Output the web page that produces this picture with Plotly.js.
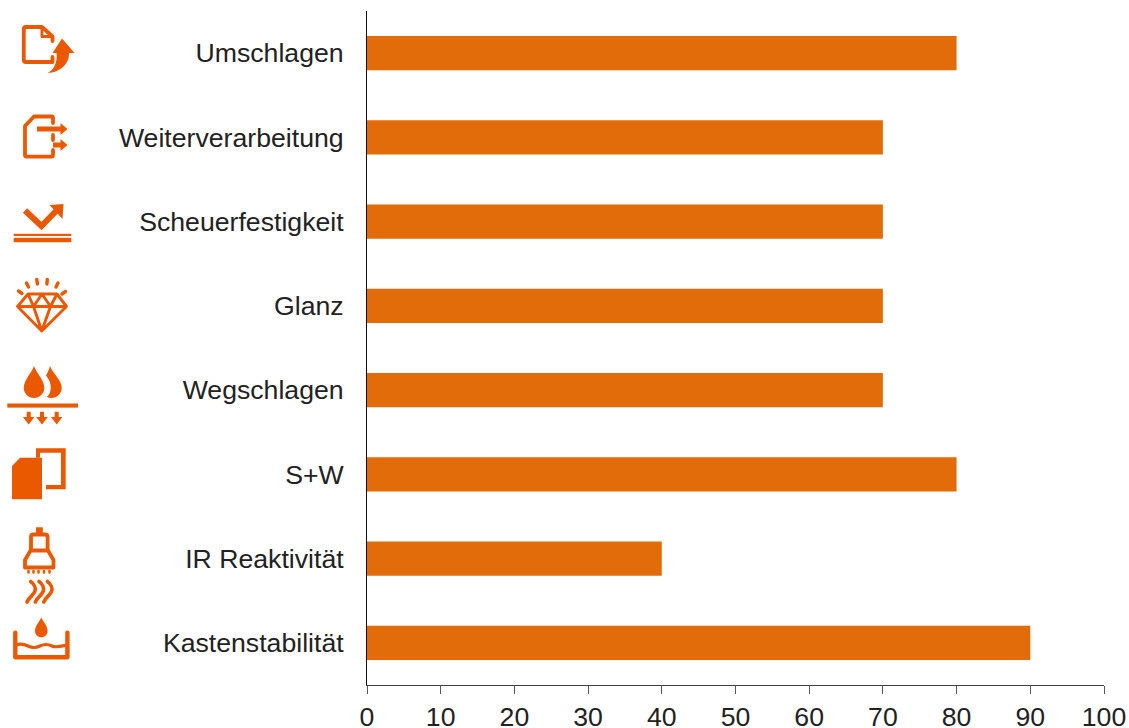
<!DOCTYPE html>
<html>
<head>
<meta charset="utf-8">
<script src="https://cdn.plot.ly/plotly-3.0.1.min.js"></script>
<style>html,body{margin:0;padding:0;background:#fff}#chart{width:1129px;height:728px}</style>
</head>
<body>
<div id="chart"></div>
<script>
const categories = ["Umschlagen","Weiterverarbeitung","Scheuerfestigkeit","Glanz","Wegschlagen","S+W","IR Reaktivität","Kastenstabilität"];
const values = [80,70,70,70,70,80,40,90];
const xTicks = [0,10,20,30,40,50,60,70,80,90,100];

const W = 1129, H = 728;
const M = {l:367, r:25, t:11, b:43};
const barColor = "#E36C0A";
const iconColor = "#EA5800";
const textColor = "#222222";

// icon artwork, drawn in page-pixel coordinates inside its own box
const stroke = (w) => `fill="none" stroke="${iconColor}" stroke-width="${w}" stroke-linejoin="round" stroke-linecap="round"`;
const fill = `fill="${iconColor}"`;
const icons = [
  {box:[18,20,60,56], art:`
    <path ${stroke(3.8)} d="M52.5 41V36.5L42 27H26Q23.8 27 23.8 29V60Q23.8 62 26 62H52.5V57"/>
    <path ${stroke(3)} d="M42 28V36.5H52"/>
    <path ${fill} d="M62 38.5L74.5 53H69C69.5 64 60 72.5 47.5 73C54.5 69.5 57.5 62 56.5 53H52.5Z"/>`},
  {box:[20,110,52,52], art:`
    <path ${stroke(3.8)} d="M53 123V118Q53 116.5 51.5 116.5H34L25 126V155Q25 156.7 26.5 156.7H51.5Q53 156.7 53 155V150M53 135V140"/>
    <path ${fill} d="M37 126.5H60.5V123L67.5 129L60.5 135V131.5H37Z"/>
    <path ${fill} d="M53 142.5H60.5V139L67.5 145L60.5 151V147.5H53Z"/>`},
  {box:[10,200,66,46], art:`
    <path ${stroke(6)} style="stroke-linecap:butt;stroke-linejoin:miter" d="M25 210.5L41.5 226L58 209"/>
    <path ${fill} d="M63.5 204L49.5 205L62.5 219Z"/>
    <rect ${fill} x="13.7" y="233.8" width="57.6" height="2.2"/>
    <rect ${fill} x="13.7" y="237.8" width="57.6" height="4.4"/>`},
  {box:[14,275,56,60], art:`
    <path ${stroke(2.9)} d="M28 294H57L66.5 306.5L41.8 331L17.5 306.5ZM17.5 306.5H66.5M28 294L33.5 306.5L41.8 331L50.5 306.5L57 294M33.5 306.5L42 294L50.5 306.5"/>
    <path ${stroke(3.4)} d="M18.5 291L22 293.5M26.5 283L28.5 287M36.8 279.5L37.4 284M47.3 279.5L46.9 284M58 283L56 287M65.5 291.5L62 294"/>`},
  {box:[4,362,78,66], art:`
    <path ${fill} d="M34 366C37 374 44.3 380 44.3 388C44.3 393.6 39.6 398 34 398C28.4 398 23.8 393.6 23.8 388C23.8 380 31 374 34 366Z"/>
    <path ${fill} d="M50 366C53 374 61.7 380 61.7 388C61.7 394 56.5 398 51.5 398C49.5 398 48 397.5 47 396.5C52 393 52.5 383 46 375.5C47.5 373 49 370 50 366Z"/>
    <rect ${fill} x="7.3" y="403.5" width="70.7" height="4.1"/>
    <path ${fill} d="M26.7 411.7H30.7V417H34.5L28.7 424.5L22.9 417H26.7Z"/>
    <path ${fill} d="M40 411.7H44V417H47.8L42 424.5L36.2 417H40Z"/>
    <path ${fill} d="M54.7 411.7H58.7V417H62.5L56.7 424.5L50.9 417H54.7Z"/>`},
  {box:[8,444,62,60], art:`
    <path ${fill} d="M20 457.7H42V499.3H12V466Z"/>
    <path ${fill} d="M36 448.3H65.7V489.3H46V485H61V452.7H40V457.7H36Z"/>`},
  {box:[20,524,40,82], art:`
    <rect ${fill} x="36" y="527.3" width="6.8" height="6"/>
    <path ${stroke(3.8)} d="M31 549V537Q31 534.5 33.5 534.5H45Q47.6 534.5 47.6 537V549"/>
    <path ${stroke(3.8)} d="M30.5 550.5H48L53.5 560V567.5H25V560Z"/>
    <path ${stroke(2.6)} d="M28.5 571V572.5M33.5 571V572.5M38.5 571V572.5M44 571V572.5M49.5 571V572.5"/>
    <path ${stroke(3.6)} d="M30.7 581.5C34 584 36 588 35 591C34 595 29 597 27 602"/>
    <path ${stroke(3.6)} d="M39 581.5C42.3 584 44.3 588 43.3 591C42.3 595 37.3 597 35.3 602"/>
    <path ${stroke(3.6)} d="M47.4 581.5C50.7 584 52.7 588 51.7 591C50.7 595 45.7 597 43.7 602"/>`},
  {box:[10,614,64,50], art:`
    <path ${fill} d="M41.3 617.3C43 622 47.6 625.5 47.6 631C47.6 634.5 44.8 637.3 41.3 637.3C37.8 637.3 35 634.5 35 631C35 625.5 39.6 622 41.3 617.3Z"/>
    <path ${stroke(4.4)} d="M15.3 632.7V657.3H67.4V632.7"/>
    <path ${stroke(3.2)} d="M16 645C21 643 24 644 28 646C32 648 36 648 40 646C44 644 48 644 52 646C56 648 62 646 67 645"/>`}
];

function iconImage(ic){
  const [x,y,w,h] = ic.box;
  const svg = `<svg xmlns="http://www.w3.org/2000/svg" width="${w}" height="${h}" viewBox="${x} ${y} ${w} ${h}">${ic.art}</svg>`;
  const pw = W-M.l-M.r, ph = H-M.t-M.b;
  return {
    source: "data:image/svg+xml;charset=utf-8," + encodeURIComponent(svg),
    xref:"paper", yref:"paper",
    x:(x-M.l)/pw, y:1-(y-M.t)/ph,
    sizex:w/pw, sizey:h/ph,
    sizing:"stretch", xanchor:"left", yanchor:"top", layer:"above"
  };
}

const font = {family:"Liberation Sans, Arial, sans-serif", size:26.67, color:textColor};

Plotly.newPlot("chart",[{
  type:"bar", orientation:"h",
  y:categories, x:values,
  marker:{color:barColor, line:{width:0}},
  hoverinfo:"x+y"
}],{
  width:W, height:H,
  margin:M,
  paper_bgcolor:"#fff", plot_bgcolor:"#fff",
  bargap:0.595,
  showlegend:false,
  font:font,
  xaxis:{
    range:[0,100], tickvals:xTicks, ticktext:xTicks.map(String),
    showgrid:false, zeroline:false,
    showline:true, linecolor:"#404040", linewidth:1,
    ticks:"outside", ticklen:8, tickwidth:1, tickcolor:"#595959",
    tickfont:font, ticklabelstandoff:0, fixedrange:true
  },
  yaxis:{
    type:"category", autorange:"reversed",
    showgrid:false, zeroline:false,
    showline:true, linecolor:"#111111", linewidth:1,
    ticks:"", tickfont:font, ticklabelstandoff:17, fixedrange:true
  },
  images:icons.map(iconImage)
},{displayModeBar:false, responsive:false});
</script>
</body>
</html>
